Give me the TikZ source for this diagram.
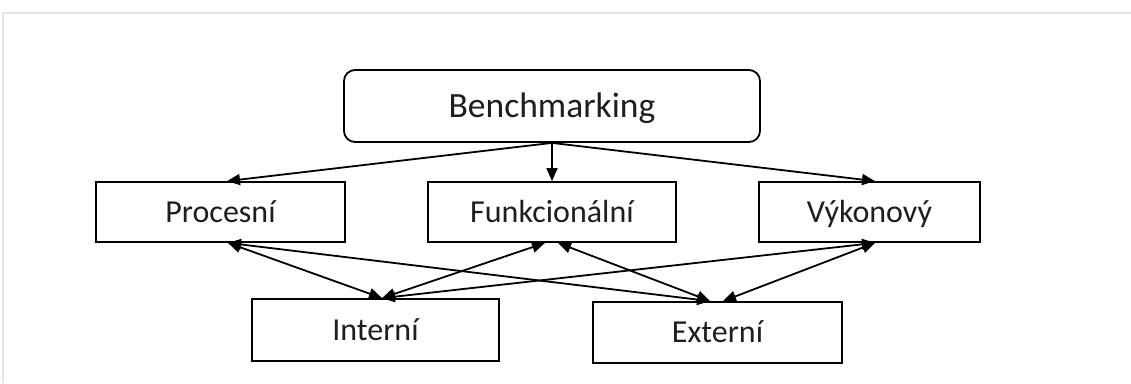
\documentclass[tikz,border=0pt]{standalone}
\usepackage{fontspec}
\setmainfont{Carlito}
\usetikzlibrary{arrows.meta}
\definecolor{frameblue}{RGB}{218,230,246}
\definecolor{txt}{RGB}{30,30,30}
\begin{document}
\begin{tikzpicture}[x=1pt,y=-1pt,
  box/.style={draw=black, line width=1.8pt, fill=white, inner sep=0pt, text=txt,
    text height=20.6pt, text depth=0pt, font=\fontsize{32}{38}\selectfont},
  topbox/.style={box, rounded corners=11pt, text height=22.9pt, font=\fontsize{35.5}{42}\selectfont},
  conn/.style={line width=1.8pt, -{Triangle[length=13pt,width=11pt]}},
  bconn/.style={line width=1.8pt, {Triangle[length=13pt,width=11pt]}-{Triangle[length=13pt,width=11pt]}}
]
\useasboundingbox (0,0) rectangle (1131,383);
\fill[white] (0,0) rectangle (1131,383);
\draw[frameblue, line width=1.5pt] (3,383) -- (3,13) -- (1131,13);

\node[topbox, minimum width=416pt, minimum height=72pt] (bench) at (552,106) {Benchmarking};
\node[box, minimum width=249pt, minimum height=60pt] (proc) at (220.5,212) {Procesní};
\node[box, minimum width=248pt, minimum height=60pt] (func) at (552,212) {Funkcionální};
\node[box, minimum width=221pt, minimum height=60pt] (vyk) at (869.5,212) {Výkonový};
\node[box, minimum width=247pt, minimum height=62pt] (int) at (375.5,330) {Interní};
\node[box, minimum width=249pt, minimum height=61pt] (ext) at (717.5,332.5) {Externí};

\draw[conn] (bench.south) -- ([xshift=6.5pt]proc.north);
\draw[conn] (bench.south) -- (func.north);
\draw[conn] (bench.south) -- ([xshift=5.5pt]vyk.north);

\draw[bconn] ([xshift=7.5pt]proc.south) -- ([xshift=6.5pt]int.north);
\draw[bconn] ([xshift=7.5pt]proc.south) -- ([xshift=-7.5pt]ext.north);
\draw[bconn] ([xshift=-7pt]func.south) -- ([xshift=6.5pt]int.north);
\draw[bconn] ([xshift=6pt]func.south) -- ([xshift=-7.5pt]ext.north);
\draw[bconn] ([xshift=5.5pt]vyk.south) -- ([xshift=6.5pt]int.north);
\draw[bconn] ([xshift=5.5pt]vyk.south) -- ([xshift=5.5pt]ext.north);
\end{tikzpicture}
\end{document}
